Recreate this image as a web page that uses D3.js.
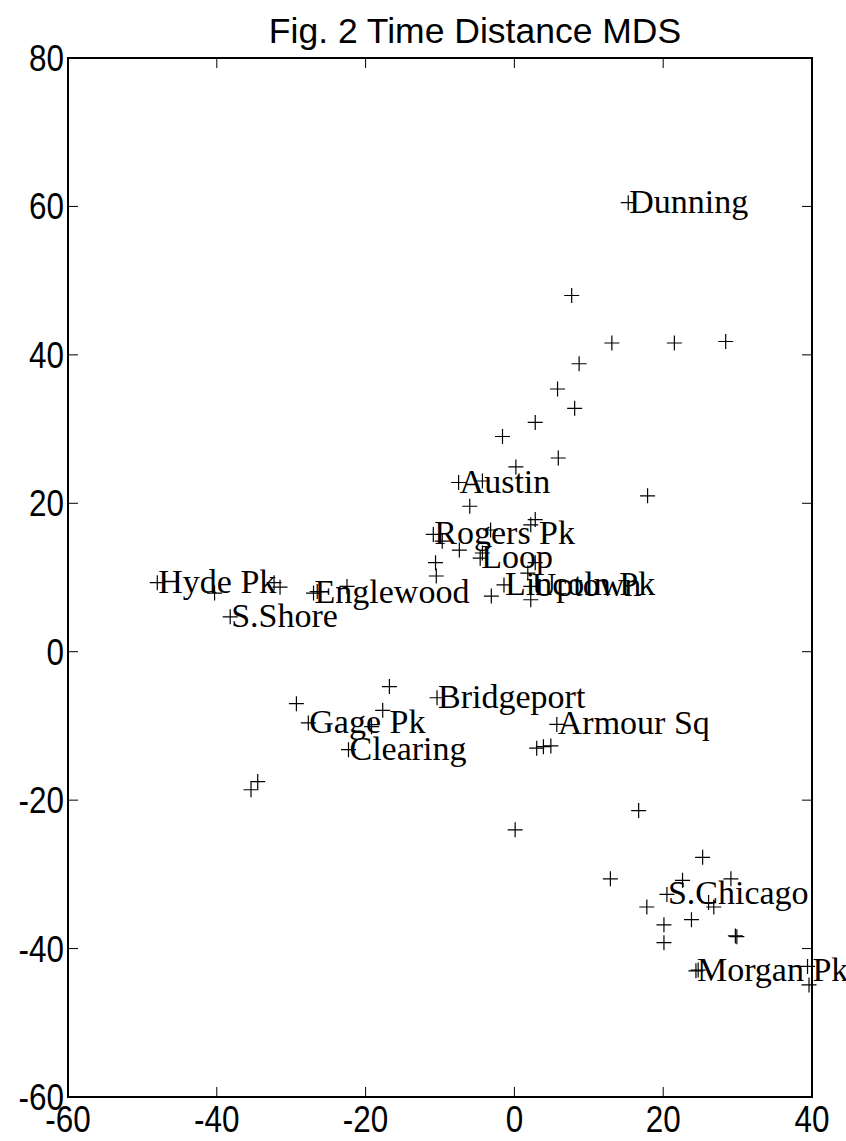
<!DOCTYPE html>
<html>
<head>
<meta charset="utf-8">
<script src="https://cdn.jsdelivr.net/npm/d3@7"></script>
<style>
  html, body { margin: 0; padding: 0; background: #fff; overflow: hidden; }
  svg { display: block; }
</style>
</head>
<body>
<svg id="chart" width="846" height="1141"></svg>
<script>
// MDS configuration of Chicago community areas from travel-time distances
const placeNames = [
  "Dunning", "", "", "", "", "", "", "", "", "", "", "",
  "Austin", "", "", "", "", "",
  "Rogers Pk", "", "", "", "Loop", "", "", "", "", "",
  "Lincoln Pk", "Uptown", "", "",
  "Hyde Pk", "", "", "", "S.Shore", "Englewood", "", "",
  "", "", "Bridgeport", "", "Gage Pk", "", "Clearing", "", "",
  "Armour Sq", "", "", "", "", "",
  "", "", "", "", "S.Chicago", "", "", "", "", "", "", "", "",
  "Morgan Pk", "", "", ""
];
const dim1 = [
  15.3, 7.7, 13.1, 21.5, 28.4, 8.7, 5.8, 8.1, 2.8, -1.6, 5.9, 0.2,
  -7.5, -4.3, 17.9, -6.0, 2.8, 2.2,
  -10.9, -9.7, -7.4, -3.2, -4.6, -4.3, -10.6, -10.5, 2.8, 1.8,
  -1.4, 2.2, -3.1, 2.2,
  -48.0, -40.3, -32.3, -31.5, -38.2, -27.0, -26.5, -22.5,
  -16.8, -29.3, -10.4, -17.7, -27.7, -19.2, -22.3, -34.5, -35.4,
  5.7, 3.0, 3.9, 4.9, 0.1, 16.7,
  25.3, 12.9, 22.6, 29.1, 20.5, 26.1, 26.8, 17.8, 23.8, 20.1, 20.1, 29.9, 29.7,
  24.4, 24.7, 39.4, 39.6
];
const dim2 = [
  60.5, 48.0, 41.6, 41.6, 41.8, 38.8, 35.4, 32.8, 30.9, 29.0, 26.1, 24.9,
  22.8, 23.0, 21.0, 19.6, 17.8, 17.1,
  15.8, 14.9, 13.7, 16.4, 12.6, 13.3, 12.0, 10.2, 12.0, 10.6,
  9.0, 8.8, 7.5, 7.0,
  9.3, 7.9, 9.3, 8.7, 4.7, 7.9, 8.1, 8.8,
  -4.7, -7.0, -6.2, -7.9, -9.6, -10.1, -13.2, -17.5, -18.6,
  -9.8, -13.0, -12.8, -12.7, -24.0, -21.4,
  -27.7, -30.6, -30.8, -30.6, -32.7, -33.8, -34.4, -34.4, -36.1, -36.8, -39.2, -38.4, -38.3,
  -43.0, -42.9, -42.4, -44.9
];
const xTicks = [-60, -40, -20, 0, 20, 40];
const yTicks = [-60, -40, -20, 0, 20, 40, 60, 80];
const title = "Fig. 2 Time Distance MDS";

const points = dim1.map((d, i) => ({ x: d, y: dim2[i], name: placeNames[i] }));

const margin = { top: 58, right: 34, bottom: 44, left: 68 };
const W = 846, H = 1141;
const iw = W - margin.left - margin.right;
const ih = H - margin.top - margin.bottom;

const svg = d3.select("#chart");
const x = d3.scaleLinear().domain([-60, 40]).range([0, iw]);
const y = d3.scaleLinear().domain([-60, 80]).range([ih, 0]);

const g = svg.append("g").attr("transform", `translate(${margin.left},${margin.top})`);

const sansFont = "'Liberation Sans', Arial, Helvetica, sans-serif";
const serifFont = "'Liberation Serif', 'Times New Roman', serif";

// title
svg.append("text")
  .attr("x", 475).attr("y", 43)
  .attr("text-anchor", "middle")
  .attr("font-family", sansFont)
  .attr("font-size", 35.5)
  .attr("fill", "#000")
  .text(title);

// frame
g.append("rect")
  .attr("x", 0).attr("y", 0).attr("width", iw).attr("height", ih)
  .attr("fill", "none").attr("stroke", "#000").attr("stroke-width", 2);

// inward ticks on all four sides
const tickLen = 10;
const inner = v => v > x.domain()[0] && v < x.domain()[1];
const innerY = v => v > y.domain()[0] && v < y.domain()[1];
const tg = g.append("g").attr("stroke", "#000").attr("stroke-width", 1);
xTicks.filter(inner).forEach(v => {
  tg.append("line").attr("x1", x(v)).attr("x2", x(v)).attr("y1", ih).attr("y2", ih - tickLen);
  tg.append("line").attr("x1", x(v)).attr("x2", x(v)).attr("y1", 0).attr("y2", tickLen);
});
yTicks.filter(innerY).forEach(v => {
  tg.append("line").attr("x1", 0).attr("x2", tickLen).attr("y1", y(v)).attr("y2", y(v));
  tg.append("line").attr("x1", iw).attr("x2", iw - tickLen).attr("y1", y(v)).attr("y2", y(v));
});

// tick labels: tall, slightly condensed numerals
const sx = 0.85;
g.append("g").selectAll("text").data(xTicks).join("text")
  .attr("transform", d => `translate(${x(d)},${ih + 35}) scale(${sx},1)`)
  .attr("text-anchor", "middle")
  .attr("font-family", sansFont).attr("font-size", 37)
  .text(d => d);
g.append("g").selectAll("text").data(yTicks).join("text")
  .attr("transform", d => `translate(-4,${y(d) + 13}) scale(${sx},1)`)
  .attr("text-anchor", "end")
  .attr("font-family", sansFont).attr("font-size", 37)
  .text(d => d);

// points and place labels
const plot = g.append("g");
const arm = 7.5;
const marks = plot.append("g").attr("stroke", "#000").attr("stroke-width", 1.2).attr("fill", "none");
marks.selectAll("path").data(points).join("path")
  .attr("d", d => {
    const px = x(d.x), py = y(d.y);
    return `M${px - arm},${py}H${px + arm}M${px},${py - arm}V${py + arm}`;
  });

plot.append("g").selectAll("text").data(points.filter(d => d.name)).join("text")
  .attr("x", d => x(d.x) + 1)
  .attr("y", d => y(d.y) + 10)
  .attr("font-family", serifFont)
  .attr("font-size", 34)
  .attr("fill", "#000")
  .text(d => d.name);
</script>
</body>
</html>
